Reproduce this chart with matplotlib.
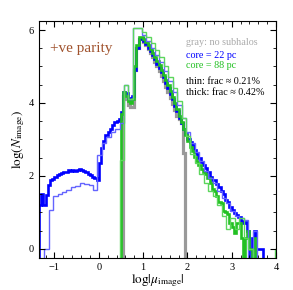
"""Image-count histograms for +ve parity images, with and without subhalos."""
import numpy as np
import matplotlib

matplotlib.use("Agg")
import matplotlib.pyplot as plt  # noqa: E402

plt.rcParams["font.family"] = "serif"
plt.rcParams["font.serif"] = ["Liberation Serif", "DejaVu Serif"]
plt.rcParams["mathtext.fontset"] = "stix"

# log(N) per bin; None means an empty bin
thick_width = 0.05
thin_width = 0.10

blue_thick_start = -1.35
blue_thick = [
    1.2, 1.52, 1.2, 1.48, 1.75, 1.89, 1.92, 1.98, 2.02, 2.05,
    2.07, 2.1, 2.12, 2.17, 2.15, 2.17, 2.15, 2.17, 2.2, 2.17,
    2.13, 2.1, 2.05, 2.03, 1.98, 1.95, 1.9,
    2.36, 2.77, 2.95, 3.12, 3.2, 3.3, 3.4, 3.47, 3.52, 3.56,
    3.75, 4.3, 4.28, 4.15, 4.12, 4.2, 4.9, 5.5, 5.75, 5.78,
    5.7, 5.62, 5.52, 5.42, 5.32, 5.2, 5.08, 4.96, 4.84, 4.7,
    4.56, 4.42, 4.26, 4.1, 3.93, 3.77, 3.6, 3.45, 3.3, 3.15,
    3.02, 2.92, 2.85, 2.72, 2.6, 2.48, 2.38, 2.3, 2.22, 2.1,
    1.98, 1.88, 1.9, 1.78, 1.7, 1.58, 1.5, 1.35, 1.28, 1.15,
    1.08, 0.98, 0.92, 0.88, 0.78, 0.7, 0.75, 0.48, None, 0.3,
    0.48, 0.0, 0.0, 0.0,
]

green_thick_start = 0.50
green_thick = [
    3.7, 4.3, 4.2, 4.05, 4.0, 4.1, 5.0, 5.6, 5.8, 5.82,
    5.76, 5.68, 5.58, 5.48, 5.38, 5.27, 5.15, 5.03, 4.9, 4.77,
    4.63, 4.48, 4.33, 4.17, 4.0, 3.83, 3.65, 3.48, 3.3, 3.13,
    2.95, 2.8, 2.68, 2.52, 2.4, 2.3, 2.2, 2.1, 2.05, 1.95,
    1.8, 1.65, 1.6, 1.45, 1.3, 1.25, 1.05, 1.0, 0.95, 0.7,
    0.6, 0.45, 0.7, 0.7, 0.3, None, 0.3, 0.48, 0.0, None,
    0.3,
]

gray_start = 0.55
gray_thick = [
    4.2, 4.1, 3.95, 3.88, 3.9, 4.9, 5.5, 5.75, 5.78,
    5.68, 5.58, 5.47, 5.36, 5.25, 5.13, 5.0, 4.88, 4.75, 4.6,
    4.45, 4.3, 4.15, 3.98, 3.8, 3.65, 3.55, 3.45, 2.62,
]

blue_thin_start = -1.23
blue_thin = [
    0.0, 1.07, 1.45, 1.5, 1.57, 1.62, 1.7, 1.72, 1.8, 1.77, 1.75, 1.62,
    2.57, 2.9, 3.08, 3.2, 3.3, 3.45, 4.5, 4.1, 6.05, 6.05,
    5.85, 5.7, 5.52, 5.32, 5.12, 4.88, 4.6, 4.3, 3.95, 3.6,
    3.2, 2.9, 2.65, 2.4, 2.15, 1.95, 1.8, 1.6, 1.4, 1.25,
    1.05, 0.9, 0.85, 0.8, None, 0.48,
]

green_thin_start = 0.47
green_thin = [
    2.45, 4.5, 4.1, 6.05, 6.05,
    5.95, 5.82, 5.65, 5.45, 5.25, 5.0, 4.72, 4.4, 4.05, 3.6,
    3.1, 2.6, 2.35, 2.05, 1.8, 1.6, 1.45, 1.2, 0.9, 0.55,
    0.85, 0.55, 0.85, 0.3, 0.0, None, None, None, None, None, 0.0,
]

EMPTY = -1.0  # drawn below the axis floor


def _stairs(ax, values, start, width, **kw):
    vals = np.array([EMPTY if v is None else v for v in values])
    edges = start + width * np.arange(len(vals) + 1)
    ax.stairs(vals, edges, baseline=EMPTY, **kw)


fig = plt.figure(figsize=(2.93, 2.90), dpi=100)
ax = fig.add_axes([0.133, 0.110, 0.809, 0.818])

_stairs(ax, gray_thick, gray_start, thick_width, color="#999999", lw=2.3)
_stairs(ax, blue_thick, blue_thick_start, thick_width, color="#0000ff", lw=1.9)
_stairs(ax, green_thick, green_thick_start, thick_width, color="#22c022", lw=1.9)
_stairs(ax, blue_thin, blue_thin_start, thin_width, color="#6464ff", lw=1.0)
_stairs(ax, green_thin, green_thin_start, thin_width, color="#5cd65c", lw=1.0)

ax.set_xlim(-1.35, 4.0)
ax.set_ylim(-0.25, 6.25)
ax.set_xticks([-1, 0, 1, 2, 3, 4])
ax.set_yticks([0, 2, 4, 6])
ax.set_xticks(np.arange(-1.2, 4.0, 0.2), minor=True)
ax.set_yticks(np.arange(0, 6.1, 0.5), minor=True)
ax.tick_params(which="both", direction="in", top=True, right=True, labelsize=7.5)
ax.tick_params(which="major", length=4.5, width=0.8)
ax.tick_params(which="minor", length=2.5, width=0.6)

ax.set_xlabel(r"$\log|\mu_{\rm image}|$", fontsize=9.5, labelpad=0)
ax.set_ylabel(r"$\log(N_{\rm image})$", fontsize=9.5, labelpad=1)

ax.text(0.045, 0.885, "+ve parity", transform=ax.transAxes, fontsize=11,
        color="#a0522d", va="center")
tx = 0.62
fs = 7.3
ax.text(tx, 0.91, "gray: no subhalos", transform=ax.transAxes, fontsize=fs,
        color="#aaaaaa", va="center")
ax.text(tx, 0.855, "core = 22 pc", transform=ax.transAxes, fontsize=fs,
        color="#0000ff", va="center")
ax.text(tx, 0.81, "core = 88 pc", transform=ax.transAxes, fontsize=fs,
        color="#22c022", va="center")
ax.text(tx, 0.745, "thin: frac \u2248 0.21%", transform=ax.transAxes,
        fontsize=fs, color="black", va="center")
ax.text(tx, 0.70, "thick: frac \u2248 0.42%", transform=ax.transAxes,
        fontsize=fs, color="black", va="center")

fig.savefig("out.png", dpi=100)
